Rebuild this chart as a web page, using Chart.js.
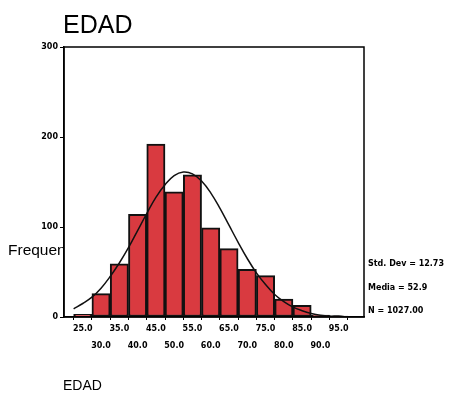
<!DOCTYPE html>
<html>
<head>
<meta charset="utf-8">
<script src="https://cdn.jsdelivr.net/npm/chart.js@4"></script>
<style>
    html, body { margin: 0; padding: 0; background: #fff; }
    #wrap { width: 451px; height: 394px; }
</style>
</head>
<body>
<div id="wrap"><canvas id="histChart" width="451" height="394"></canvas></div>
<script>
// bin centres (EDAD) and counts
const binCenters = [25, 30, 35, 40, 45, 50, 55, 60, 65, 70, 75, 80, 85, 90, 95];
const binCounts = [3, 26, 59, 114, 192, 139, 158, 99, 76, 53, 46, 20, 13, 2, 1];

// fitted normal curve
const curveX = [22.5, 25, 27.5, 30, 32.5, 35, 37.5, 40, 42.5, 45, 47.5, 50, 52.5, 55, 57.5, 60,
    62.5, 65, 67.5, 70, 72.5, 75, 77.5, 80, 82.5, 85, 87.5, 90, 92.5, 95, 97.5];
const curveY = [9, 15, 22, 32, 45, 60, 77, 96, 115, 133, 147, 157, 161, 159, 151, 138,
    121, 102, 83, 65, 49, 36, 25, 17, 11, 7, 4, 2, 1, 1, 0];

const xTicks = [25, 30, 35, 40, 45, 50, 55, 60, 65, 70, 75, 80, 85, 90, 95];
const yTicks = [0, 100, 200, 300];

const statLines = ['Std. Dev = 12.73', 'Media = 52.9', 'N = 1027.00'];

const tickFont = { family: 'DejaVu Sans', size: 8, weight: 'bold' };

const textPlugin = {
    id: 'textPlugin',
    afterDraw(chart) {
        const ctx = chart.ctx;
        const area = chart.chartArea;
        ctx.save();
        ctx.fillStyle = '#000';
        ctx.textBaseline = 'alphabetic';
        ctx.textAlign = 'left';

        // frame round the plot
        ctx.strokeStyle = '#000';
        ctx.lineWidth = 1.5;
        ctx.strokeRect(area.left, area.top, area.right - area.left, area.bottom - area.top);

        ctx.font = '25px "Liberation Sans", Arial, sans-serif';
        ctx.fillText('EDAD', 63, 33);

        ctx.font = '14px "Liberation Sans", Arial, sans-serif';
        ctx.fillText('EDAD', 63, 390);

        // axis title is cut off by the plot, as in the original
        ctx.save();
        ctx.beginPath();
        ctx.rect(0, 0, area.left - 1, chart.height);
        ctx.clip();
        ctx.font = '15.5px "Liberation Sans", Arial, sans-serif';
        ctx.fillText('Frequency', 8, 255);
        ctx.restore();

        ctx.font = 'bold 8px "DejaVu Sans", sans-serif';
        statLines.forEach((line, i) => {
            ctx.fillText(line, 368, 266 + i * 23.5);
        });
        ctx.restore();
    }
};

new Chart(document.getElementById('histChart').getContext('2d'), {
    type: 'bar',
    data: {
        datasets: [
            {
                type: 'line',
                data: curveX.map((x, i) => ({ x: x, y: curveY[i] })),
                borderColor: '#111',
                borderWidth: 1.5,
                pointRadius: 0,
                tension: 0.4,
                fill: false,
                order: 0
            },
            {
                type: 'bar',
                data: binCenters.map((x, i) => ({ x: x, y: binCounts[i] })),
                backgroundColor: '#d93a40',
                borderColor: '#111',
                borderWidth: 2,
                borderSkipped: false,
                barPercentage: 1,
                categoryPercentage: 1,
                order: 1
            }
        ]
    },
    options: {
        responsive: false,
        animation: false,
        layout: {
            padding: { top: 47, right: 87, left: 0, bottom: 0 }
        },
        scales: {
            x: {
                type: 'linear',
                min: 22.6,
                max: 99.2,
                afterBuildTicks: (scale) => {
                    scale.ticks = xTicks.map(v => ({ value: v }));
                },
                afterFit: (scale) => {
                    scale.height = 77;
                },
                ticks: {
                    autoSkip: false,
                    maxRotation: 0,
                    padding: 0,
                    color: '#000',
                    font: { family: 'DejaVu Sans', size: 8, weight: 'bold', lineHeight: 2.2 },
                    callback: (value) => {
                        const label = Number(value).toFixed(1);
                        return (value - 25) % 10 === 0 ? label : ['', label];
                    }
                },
                grid: {
                    drawOnChartArea: false,
                    tickLength: 3,
                    color: '#000'
                },
                border: { color: '#000', width: 1.5 }
            },
            y: {
                min: 0,
                max: 300,
                afterBuildTicks: (scale) => {
                    scale.ticks = yTicks.map(v => ({ value: v }));
                },
                afterFit: (scale) => {
                    scale.width = 64;
                },
                ticks: {
                    padding: 2,
                    color: '#000',
                    font: tickFont
                },
                grid: {
                    drawOnChartArea: false,
                    tickLength: 4,
                    color: '#000'
                },
                border: { color: '#000', width: 1.5 }
            }
        },
        plugins: {
            legend: { display: false },
            tooltip: { enabled: false },
            title: { display: false }
        }
    },
    plugins: [textPlugin]
});
</script>
</body>
</html>
